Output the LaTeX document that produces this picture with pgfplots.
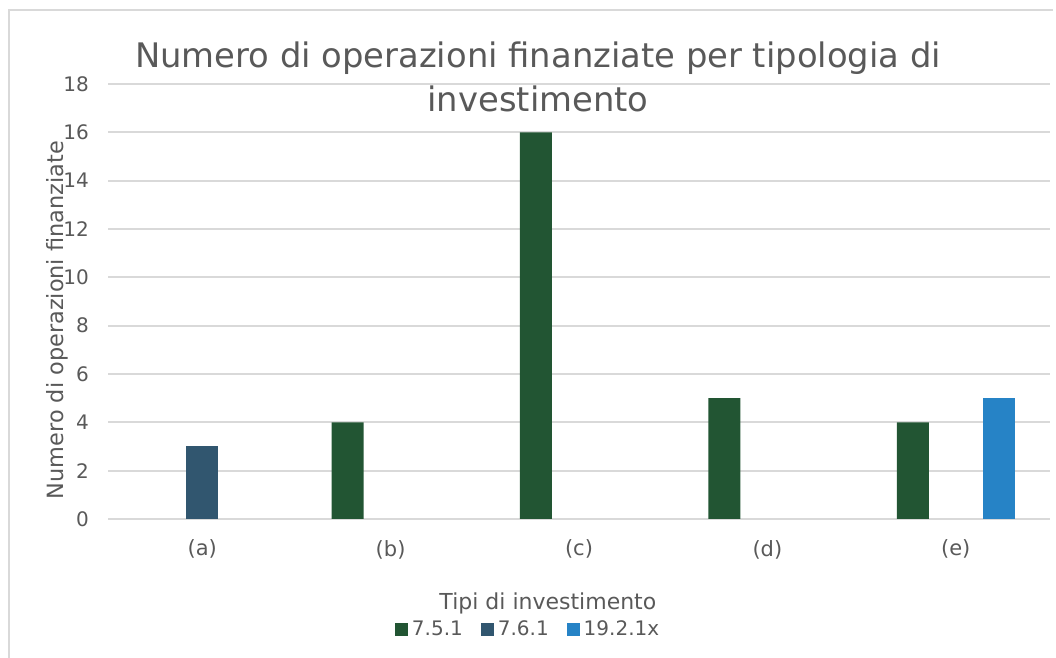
\documentclass[border=0pt]{standalone}
\usepackage{fontspec}
\setmainfont{DejaVu Sans}
\usepackage{pgfplots}
\pgfplotsset{compat=1.18}

\definecolor{txt}{HTML}{595959}
\definecolor{gridc}{HTML}{D9D9D9}
\definecolor{cA}{HTML}{225533}
\definecolor{cB}{HTML}{31566F}
\definecolor{cC}{HTML}{2683C6}

\begin{document}
\begin{tikzpicture}[x=0.5pt,y=0.5pt]
  \useasboundingbox (0,0) rectangle (1056,658);
  \draw[color=gridc, line width=0.8pt] (9,0) -- (9,648) -- (1053,648);
  \begin{axis}[
      at={(54pt,69.5pt)}, anchor=south west,
      width=471pt, height=217.5pt, scale only axis,
      xmin=-0.5, xmax=4.5, ymin=0, ymax=18,
      ytick={0,2,...,18},
      xtick={0,1,2,3,4},
      xticklabels={(a),(b),(c),(d),(e)},
      axis line style={draw=none},
      major tick length=0pt,
      ymajorgrids,
      grid style={color=gridc, line width=0.9pt},
      ybar=5.5pt, bar width=16pt,
      ticklabel style={font=\fontsize{10}{12}\selectfont, text=txt},
      /pgf/number format/assume math mode=true,
      yticklabel style={xshift=-6pt},
      xticklabel style={yshift=-7pt, font=\fontsize{10.5}{12}\selectfont},
      xlabel={Tipi di investimento},
      xlabel style={at={(axis description cs:0.467,-0.193)}, anchor=center,
        font=\fontsize{11}{13}\selectfont, text=txt},
      ylabel={Numero di operazioni finanziate},
      ylabel style={at={(axis description cs:-0.054,0.457)}, anchor=center,
        font=\fontsize{11.2}{13}\selectfont, text=txt},
      legend style={at={(axis description cs:0.447,-0.255)}, anchor=center,
        draw=none, fill=none, legend columns=3,
        font=\fontsize{10}{12}\selectfont, text=txt,
        /tikz/every even column/.append style={column sep=7pt}},
      legend image code/.code={\fill[#1] (0pt,-3.25pt) rectangle (6.5pt,3.25pt);},
    ]
    % 7.5.1
    \addplot[fill=cA, draw=none] coordinates {(1,4) (2,16) (3,5) (4,4)};
    % 7.6.1
    \addplot[fill=cB, draw=none] coordinates {(0,3)};
    % 19.2.1x
    \addplot[fill=cC, draw=none] coordinates {(4,5)};
    \legend{7.5.1,7.6.1,19.2.1x}
  \end{axis}
  \node[text=txt, font=\fontsize{16.9}{20}\selectfont] at (538,600) {Numero di operazioni finanziate per tipologia di};
  \node[text=txt, font=\fontsize{16.9}{20}\selectfont] at (538,559) {investimento};
\end{tikzpicture}
\end{document}
